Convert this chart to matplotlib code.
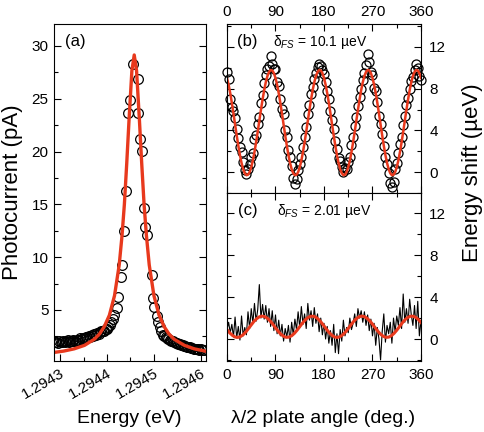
import matplotlib
matplotlib.use("Agg")
import matplotlib.pyplot as plt
import matplotlib.ticker as ticker

plt.rcParams['font.family'] = ['Liberation Sans', 'DejaVu Sans']
plt.rcParams['mathtext.fontset'] = 'custom'
plt.rcParams['mathtext.rm'] = 'Liberation Sans'
plt.rcParams['mathtext.it'] = 'Liberation Sans:italic'

RED = '#e8391d'

# --- (a) photocurrent vs energy ---
ENERGY_PTS = [
    1.294289, 1.294292, 1.294295, 1.294298, 1.294301, 1.294304, 1.294307, 1.294310,
    1.294313, 1.294316, 1.294319, 1.294322, 1.294325, 1.294328, 1.294331, 1.294334,
    1.294337, 1.294340, 1.294343, 1.294346, 1.294349, 1.294352, 1.294355, 1.294358,
    1.294361, 1.294364, 1.294367, 1.294370, 1.294373, 1.294376, 1.294379, 1.294382,
    1.294385, 1.294388, 1.294391, 1.294394, 1.294397, 1.294400, 1.294403, 1.294406,
    1.294409, 1.294412, 1.294415, 1.294421, 1.294424, 1.294429, 1.294433, 1.294436,
    1.294440, 1.294444, 1.294449, 1.294455, 1.294465, 1.294467, 1.294470, 1.294474,
    1.294479, 1.294481, 1.294485, 1.294495, 1.294499, 1.294501, 1.294506, 1.294509,
    1.294513, 1.294516, 1.294519, 1.294522, 1.294525, 1.294528, 1.294531, 1.294534,
    1.294537, 1.294540, 1.294543, 1.294546, 1.294549, 1.294552, 1.294555, 1.294558,
    1.294561, 1.294564, 1.294567, 1.294570, 1.294573, 1.294576, 1.294579, 1.294582,
    1.294585, 1.294588, 1.294591, 1.294594, 1.294597, 1.294600, 1.294603, 1.294606,
]
CURRENT_PTS = [
    1.95, 2.0, 1.9, 2.05, 2.0, 1.95, 2.1, 2.0,
    2.05, 2.15, 2.0, 2.1, 2.05, 2.2, 2.1, 2.0,
    2.2, 2.15, 2.3, 2.25, 2.35, 2.3, 2.4, 2.45,
    2.5, 2.45, 2.6, 2.55, 2.7, 2.65, 2.8, 2.75,
    2.9, 3.0, 3.05, 3.0, 3.2, 3.2, 3.4, 3.6,
    3.9, 4.1, 4.5, 5.2, 6.2, 8.1, 9.25, 12.5,
    16.25, 23.7, 24.9, 28.3, 26.9, 23.7, 21.2, 20.1,
    14.7, 12.9, 12.1, 8.3, 6.1, 5.25, 4.45, 3.9,
    3.4, 3.0, 2.6, 2.5, 2.4, 2.3, 2.25, 2.2,
    2.1, 2.05, 2.0, 1.9, 1.85, 1.8, 1.8, 1.7,
    1.65, 1.6, 1.6, 1.5, 1.5, 1.45, 1.4, 1.4,
    1.35, 1.3, 1.35, 1.3, 1.25, 1.3, 1.2, 1.25,
]
ENERGY_FIT = [
    1.294287, 1.294308, 1.294330, 1.294352, 1.294373, 1.294384, 1.294394, 1.294405,
    1.294416, 1.294426, 1.294432, 1.294437, 1.294442, 1.294447, 1.294453, 1.294458,
    1.294463, 1.294469, 1.294474, 1.294479, 1.294484, 1.294490, 1.294500, 1.294511,
    1.294522, 1.294532, 1.294543, 1.294565, 1.294586, 1.294611,
]
CURRENT_FIT = [
    0.98, 1.11, 1.32, 1.65, 2.23, 2.73, 3.41, 4.50,
    6.36, 9.27, 12.05, 15.0, 18.85, 23.05, 27.65, 29.15,
    27.65, 23.05, 18.85, 15.0, 12.05, 9.27, 6.36, 4.50,
    3.41, 2.73, 2.23, 1.65, 1.32, 1.09,
]

# --- (b), (c) energy shift vs half-wave plate angle ---
ANGLES = list(range(0, 361, 3))
SHIFT_B = [
    9.6, 8.9, 7.0, 6.2, 5.9, 5.2, 4.1, 3.3, 2.4, 1.9,
    1.0, 0.2, -0.2, 0.3, 0.8, 1.5, 1.8, 3.2, 3.6, 4.6,
    5.3, 6.6, 7.4, 8.5, 9.3, 9.9, 10.2, 11.1, 10.4, 9.9,
    9.9, 8.6, 8.3, 7.0, 6.1, 5.6, 4.0, 3.4, 2.1, 1.5,
    0.6, -0.6, -1.1, -0.7, 0.2, 0.8, 1.5, 2.4, 3.4, 4.3,
    5.6, 6.4, 7.5, 8.2, 8.9, 9.5, 10.1, 10.4, 10.2, 9.8,
    9.4, 8.6, 7.8, 7.0, 5.9, 5.0, 4.1, 3.0, 2.2, 1.4,
    1.1, 0.5, 0.0, 0.4, 0.3, 1.0, 1.5, 2.6, 3.4, 4.4,
    5.3, 6.3, 7.2, 8.0, 8.8, 9.5, 10.3, 11.3, 10.6, 9.6,
    9.3, 8.1, 7.8, 6.7, 5.4, 4.6, 3.7, 2.5, 1.5, 0.8,
    -0.1, -1.0, -1.4, -0.9, 0.3, 0.9, 1.8, 2.7, 3.4, 4.5,
    5.4, 6.4, 7.1, 8.0, 8.7, 9.1, 9.8, 10.4, 10.0, 9.2,
    8.8,
]
FIT_B = [
    9.03, 8.38, 7.57, 6.64, 5.63, 4.57, 3.53, 2.54, 1.64, 0.88,
    0.29, -0.10, -0.29, -0.25, 0.00, 0.47, 1.12, 1.93, 2.86, 3.87,
    4.93, 5.97, 6.96, 7.86, 8.62, 9.21, 9.60, 9.79, 9.75, 9.50,
    9.03, 8.38, 7.57, 6.64, 5.63, 4.57, 3.53, 2.54, 1.64, 0.88,
    0.29, -0.10, -0.29, -0.25, 0.00, 0.47, 1.12, 1.93, 2.86, 3.87,
    4.93, 5.97, 6.96, 7.86, 8.62, 9.21, 9.60, 9.79, 9.75, 9.50,
    9.03, 8.38, 7.57, 6.64, 5.63, 4.57, 3.53, 2.54, 1.64, 0.88,
    0.29, -0.10, -0.29, -0.25, 0.00, 0.47, 1.12, 1.93, 2.86, 3.87,
    4.93, 5.97, 6.96, 7.86, 8.62, 9.21, 9.60, 9.79, 9.75, 9.50,
    9.03, 8.38, 7.57, 6.64, 5.63, 4.57, 3.53, 2.54, 1.64, 0.88,
    0.29, -0.10, -0.29, -0.25, 0.00, 0.47, 1.12, 1.93, 2.86, 3.87,
    4.93, 5.97, 6.96, 7.86, 8.62, 9.21, 9.60, 9.79, 9.75, 9.50,
    9.03,
]
SHIFT_C = [
    0.9, 1.6, 0.6, 1.4, 0.2, 2.1, 0.1, 1.2, -0.1, 2.2,
    0.3, 1.1, 0.4, 2.6, 1.0, 2.9, 1.5, 3.4, 1.7, 2.8,
    5.2, 2.0, 3.3, 1.9, 3.2, 1.6, 2.9, 1.2, 2.7, 0.8,
    2.3, 0.5, 1.8, 0.3, 1.4, -0.2, 1.0, 0.2, 1.3, -0.3,
    1.6, 0.4, 1.9, 0.9, 2.6, 1.1, 3.1, 1.4, 2.4, 1.0,
    3.4, 1.8, 2.7, 1.2, 3.0, 1.5, 2.4, 0.7, 2.0, 0.4,
    1.5, 0.0, 1.2, -0.4, 0.8, -0.6, 1.4, -1.3, 0.5, -1.4,
    0.9, -0.2, 1.8, 0.3, 1.1, 0.6, 2.0, 0.9, 1.5, 2.4,
    1.2, 2.9, 2.0, 2.7, 1.6, 2.6, 1.3, 2.3, 0.8, 1.9,
    0.3, 1.5, -0.6, 1.1, 0.0, -2.0, 0.7, 2.4, -0.3, 1.3,
    0.5, 1.6, -0.4, 2.0, 0.7, 2.2, 1.3, 3.0, 1.0, 4.3,
    1.6, 2.9, 1.5, 3.8, 2.3, 1.3, 3.2, 1.0, 3.6, 0.3,
    1.7,
]
ANGLES_FIT_C = list(range(0, 361, 5))
FIT_C = [
    0.90, 0.59, 0.35, 0.19, 0.15, 0.23, 0.41, 0.68, 1.01, 1.35,
    1.68, 1.94, 2.12, 2.19, 2.14, 1.98, 1.73, 1.42, 1.07, 0.74,
    0.46, 0.26, 0.16, 0.18, 0.31, 0.54, 0.84, 1.18, 1.52, 1.82,
    2.04, 2.17, 2.18, 2.08, 1.87, 1.58, 1.25, 0.90, 0.59, 0.34,
    0.19, 0.15, 0.23, 0.41, 0.68, 1.01, 1.35, 1.68, 1.94, 2.12,
    2.19, 2.14, 1.98, 1.73, 1.42, 1.07, 0.74, 0.46, 0.26, 0.16,
    0.18, 0.31, 0.54, 0.84, 1.18, 1.52, 1.82, 2.04, 2.17, 2.18,
    2.08, 1.87, 1.58,
]

fig = plt.figure(figsize=(4.84, 4.32), dpi=100)
ax_a = fig.add_axes([0.1116, 0.1644, 0.314, 0.780])
ax_b = fig.add_axes([0.469, 0.5532, 0.4008, 0.3912])
ax_c = fig.add_axes([0.469, 0.1644, 0.4008, 0.3888])

for ax in (ax_a, ax_b, ax_c):
    for sp in ax.spines.values():
        sp.set_linewidth(0.8)
    ax.tick_params(which='both', direction='in', width=0.8, labelsize=11)
    ax.tick_params(which='major', length=5)
    ax.tick_params(which='minor', length=3)

# --- panel (a) ---
ax_a.plot(ENERGY_PTS, CURRENT_PTS, 'o', mfc='none', mec='k', ms=7, mew=0.9)
ax_a.plot(ENERGY_FIT, CURRENT_FIT, color=RED, lw=2.4)
ax_a.set_xlim(1.294287, 1.294611)
ax_a.set_ylim(0.17, 32.08)
ax_a.set_xticks([1.2943, 1.2944, 1.2945, 1.2946])
ax_a.set_xticklabels(['1.2943', '1.2944', '1.2945', '1.2946'],
                     rotation=30, ha='right', rotation_mode='anchor')
ax_a.set_xticks([1.29435, 1.29445, 1.29455], minor=True)
ax_a.yaxis.set_major_locator(ticker.FixedLocator([5, 10, 15, 20, 25, 30]))
ax_a.yaxis.set_minor_locator(ticker.MultipleLocator(2.5))
ax_a.tick_params(which='both', top=False, right=True)
ax_a.tick_params(axis='x', pad=4)
ax_a.tick_params(axis='y', pad=4)
ax_a.text(0.072, 0.947, '(a)', transform=ax_a.transAxes, fontsize=12,
          ha='left', va='center')

# --- panel (b) ---
ax_b.plot(ANGLES, SHIFT_B, 'o', mfc='none', mec='k', ms=6.5, mew=0.9, clip_on=False)
ax_b.plot(ANGLES, FIT_B, color=RED, lw=1.8)
ax_b.set_xlim(0, 360)
ax_b.set_ylim(-2.0, 14.2)
ax_b.text(0.052, 0.896, '(b)', transform=ax_b.transAxes, fontsize=12,
          ha='left', va='center')
ax_b.text(0.237, 0.893, r'δ$_{\mathit{FS}}$ = 10.1 µeV', transform=ax_b.transAxes,
          fontsize=10, ha='left', va='center')

# --- panel (c) ---
ax_c.plot(ANGLES, SHIFT_C, color='k', lw=0.8)
ax_c.plot(ANGLES_FIT_C, FIT_C, color=RED, lw=2.2)
ax_c.set_xlim(0, 360)
ax_c.set_ylim(-2.1, 13.95)
ax_c.text(0.057, 0.893, '(c)', transform=ax_c.transAxes, fontsize=12,
          ha='left', va='center')
ax_c.text(0.258, 0.893, r'δ$_{\mathit{FS}}$ = 2.01 µeV', transform=ax_c.transAxes,
          fontsize=10, ha='left', va='center')

for ax in (ax_b, ax_c):
    ax.set_xticks([0, 90, 180, 270, 360])
    ax.xaxis.set_minor_locator(ticker.MultipleLocator(45))
    ax.set_yticks([0, 4, 8, 12])
    ax.yaxis.set_minor_locator(ticker.MultipleLocator(2))
    ax.tick_params(which='both', top=True, bottom=True, left=True, right=True,
                   labelleft=False, labelright=True)
    ax.tick_params(axis='y', pad=6)

ax_b.tick_params(labeltop=True, labelbottom=False)
ax_b.tick_params(axis='x', pad=3.5)
ax_c.tick_params(labeltop=False, labelbottom=True)
ax_c.tick_params(axis='x', pad=5)

# --- axis titles ---
fig.text(0.0258, 0.5544, 'Photocurrent (pA)', rotation=90, fontsize=16,
         ha='center', va='center')
fig.text(0.268, 0.0324, 'Energy (eV)', fontsize=14, ha='center', va='center')
fig.text(0.976, 0.6007, 'Energy shift (µeV)', rotation=90, fontsize=16,
         ha='center', va='center')
fig.text(0.668, 0.0324, 'λ/2 plate angle (deg.)', fontsize=14,
         ha='center', va='center')

fig.savefig('out.png', dpi=100)
